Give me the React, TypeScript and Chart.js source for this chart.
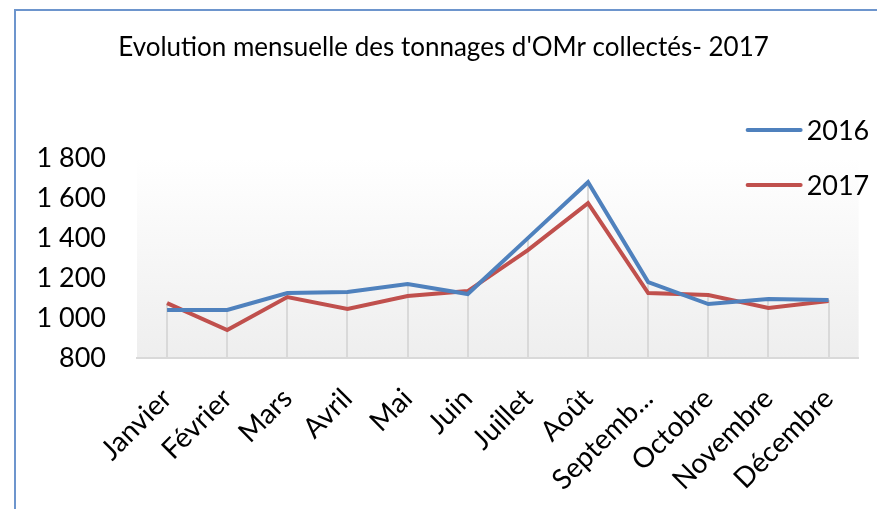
import React, { useEffect, useRef } from "react";
import { Chart, registerables } from "chart.js";

Chart.register(...registerables);

const months = ["Janvier", "Février", "Mars", "Avril", "Mai", "Juin", "Juillet", "Août", "Septemb...", "Octobre", "Novembre", "Décembre"];
const series2016 = [1040, 1040, 1125, 1130, 1170, 1120, 1400, 1680, 1180, 1070, 1095, 1090];
const series2017 = [1075, 940, 1105, 1045, 1110, 1135, 1340, 1575, 1125, 1115, 1050, 1085];
const seriesNames = ["2016", "2017"];
const seriesColors = ["#4f81bd", "#c0504d"];
const titleText = "Evolution mensuelle des tonnages d'OMr collectés- 2017";
const yMin = 800;
const yMax = 1800;
const yStep = 200;

const FONT = "Lato, 'Open Sans', sans-serif";

function fmt(v: number): string {
  if (v >= 1000) {
    return Math.floor(v / 1000) + " " + String(v % 1000).padStart(3, "0");
  }
  return String(v);
}

const bgPlugin = {
  id: "bgGradient",
  beforeDraw(chart: any) {
    const { ctx, chartArea } = chart;
    if (!chartArea) return;
    const g = ctx.createLinearGradient(0, chartArea.top, 0, chartArea.bottom);
    g.addColorStop(0, "#ffffff");
    g.addColorStop(1, "#eeeeee");
    ctx.save();
    ctx.fillStyle = g;
    ctx.fillRect(chartArea.left, chartArea.top, chartArea.right - chartArea.left, chartArea.bottom - chartArea.top);
    ctx.restore();
  },
};

const dropLinesPlugin = {
  id: "dropLines",
  beforeDatasetsDraw(chart: any) {
    const { ctx, chartArea, scales } = chart;
    const x = scales.x;
    const y = scales.y;
    ctx.save();
    ctx.strokeStyle = "#d9d9d9";
    ctx.lineWidth = 2;
    months.forEach((_, i) => {
      const vals = chart.data.datasets.map((d: any) => d.data[i]);
      const top = Math.max(...vals);
      const px = Math.round(x.getPixelForValue(i));
      ctx.beginPath();
      ctx.moveTo(px, y.getPixelForValue(top));
      ctx.lineTo(px, chartArea.bottom);
      ctx.stroke();
    });
    ctx.restore();
  },
};

const legendPlugin = {
  id: "customLegend",
  afterDraw(chart: any) {
    const { ctx, chartArea } = chart;
    ctx.save();
    ctx.font = `27px ${FONT}`;
    ctx.textBaseline = "middle";
    ctx.fillStyle = "#000";
    const ys = [130, 185];
    chart.data.datasets.forEach((d: any, i: number) => {
      const yy = ys[i];
      const x0 = chartArea.right - 111;
      const x1 = chartArea.right - 58;
      ctx.strokeStyle = d.borderColor;
      ctx.lineWidth = 4;
      ctx.lineCap = "round";
      ctx.beginPath();
      ctx.moveTo(x0, yy);
      ctx.lineTo(x1, yy);
      ctx.stroke();
      ctx.fillText(d.label, chartArea.right - 52, yy + 1);
    });
    ctx.restore();
  },
};

export default function App() {
  const ref = useRef<HTMLCanvasElement | null>(null);
  useEffect(() => {
    if (!ref.current) return;
    const chart = new Chart(ref.current, {
      type: "line",
      data: {
        labels: months,
        datasets: [
          { label: seriesNames[0], data: series2016, borderColor: seriesColors[0], backgroundColor: seriesColors[0], borderWidth: 4, pointRadius: 0, tension: 0 },
          { label: seriesNames[1], data: series2017, borderColor: seriesColors[1], backgroundColor: seriesColors[1], borderWidth: 4, pointRadius: 0, tension: 0 },
        ],
      },
      options: {
        responsive: false,
        animation: false,
        layout: { padding: { left: 26, right: 16, top: 0, bottom: 0 } },
        plugins: {
          legend: { display: false },
          tooltip: { enabled: false },
          title: {
            display: true,
            text: titleText,
            color: "#000",
            font: { family: FONT, size: 26, weight: "normal" },
            padding: { top: 32, bottom: 95 },
          },
        },
        scales: {
          x: {
            offset: true,
            grid: { display: false, drawTicks: false },
            border: { display: true, color: "#d9d9d9", width: 2 },
            ticks: {
              color: "#000",
              font: { family: FONT, size: 28 },
              maxRotation: 45,
              minRotation: 45,
              autoSkip: false,
              padding: 24,
              labelOffset: 0,
            },
            afterFit(s: any) {
              s.height = 151;
            },
          },
          y: {
            min: yMin,
            max: yMax,
            grid: { display: false, drawTicks: false },
            border: { display: false },
            ticks: {
              stepSize: yStep,
              color: "#000",
              font: { family: FONT, size: 27 },
              padding: 31,
              callback: (v: any) => fmt(Number(v)),
            },
            afterFit(s: any) {
              s.width = 111;
            },
          },
        },
      },
      plugins: [bgPlugin, dropLinesPlugin, legendPlugin],
    });
    return () => chart.destroy();
  }, []);
  return (
    <div style={{ position: "absolute", left: 0, top: 0, width: 877, height: 509, background: "#fff", overflow: "hidden" }}>
      <canvas ref={ref} width={877} height={509} style={{ position: "absolute", left: 0, top: 0 }} />
      <div style={{ position: "absolute", left: 14, top: 9, width: 863, height: 500, borderLeft: "2px solid #6d95cd", borderTop: "2px solid #6d95cd", boxSizing: "border-box" }} />
    </div>
  );
}
